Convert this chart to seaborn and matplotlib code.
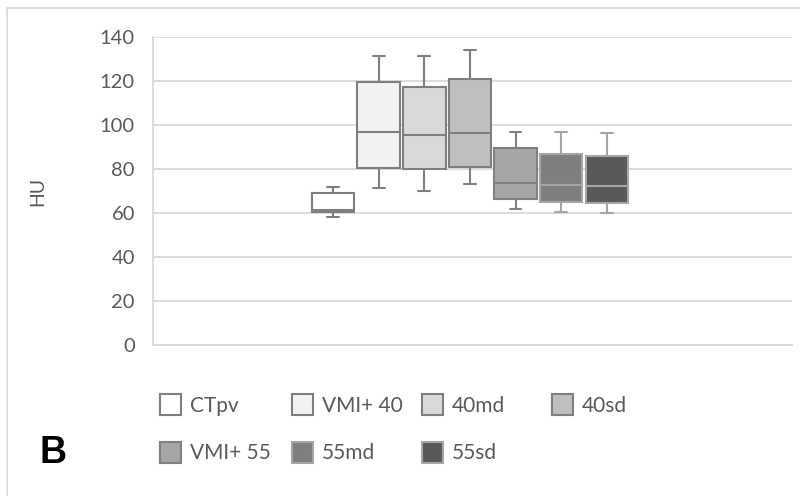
import numpy as np
import pandas as pd
import matplotlib
matplotlib.use("Agg")
import matplotlib.pyplot as plt
from matplotlib.patches import Patch, Rectangle
import seaborn as sns

# Box-and-whisker summaries (HU) for each reconstruction
series = ["CTpv", "VMI+ 40", "40md", "40sd", "VMI+ 55", "55md", "55sd"]
whisker_low = [58.5, 71.4, 70.3, 73.3, 62.1, 60.6, 60.3]
quartile_1 = [60.5, 80.7, 80.3, 81.0, 66.6, 65.0, 64.8]
medians = [61.6, 97.0, 95.4, 96.6, 73.9, 72.9, 72.4]
quartile_3 = [69.1, 119.5, 117.5, 120.9, 89.5, 86.8, 86.2]
whisker_high = [72.1, 131.6, 131.4, 134.2, 97.0, 97.0, 96.6]
y_ticks = [0, 20, 40, 60, 80, 100, 120, 140]

fills = ["#ffffff", "#f2f2f2", "#d9d9d9", "#bfbfbf", "#a6a6a6", "#7f7f7f", "#595959"]
edges = ["#7f7f7f", "#7f7f7f", "#7f7f7f", "#7f7f7f", "#808080", "#a6a6a6", "#a6a6a6"]

rows = []
for i, name in enumerate(series):
    for v in (whisker_low[i], quartile_1[i], medians[i], quartile_3[i], whisker_high[i]):
        rows.append({"group": "", "series": name, "HU": v})
df = pd.DataFrame(rows)

sns.set_style("white")
plt.rcParams["font.family"] = ["Lato", "DejaVu Sans"]

fig, ax = plt.subplots(figsize=(8, 4.96), dpi=100)
fig.subplots_adjust(left=153 / 800, right=792 / 800, bottom=150.7 / 496, top=458.7 / 496)

sns.boxplot(
    data=df, x="group", y="HU", hue="series", hue_order=series,
    palette=dict(zip(series, fills)), saturation=1,
    width=0.5, gap=0.07, whis=(0, 100), showfliers=False,
    linewidth=1.5, linecolor="#7f7f7f", legend=False, ax=ax,
)

cap_half = 0.0092
for cont, ec in zip(ax.containers, edges):
    for b in cont.boxes:
        b.set_edgecolor(ec)
    for ln in list(cont.whiskers) + list(cont.caps) + list(cont.medians):
        ln.set_color(ec)
    for cap in cont.caps:
        xd = np.asarray(cap.get_xdata(), dtype=float)
        c = xd.mean()
        cap.set_xdata([c - cap_half, c + cap_half])

ax.set_xlim(-0.496, 0.504)
ax.set_ylim(0, 140)
ax.set_yticks(y_ticks)
ax.set_xticks([])
ax.set_xlabel("")
ax.yaxis.grid(True, color="#d9d9d9", linewidth=1.3)
ax.set_axisbelow(True)
for side in ("top", "right"):
    ax.spines[side].set_visible(False)
for side in ("left", "bottom"):
    ax.spines[side].set_color("#d9d9d9")
    ax.spines[side].set_linewidth(1.3)
ax.tick_params(axis="y", length=0, pad=13, labelsize=14.5, labelcolor="#595959")
ax.set_ylabel("HU", fontsize=14, color="#595959")
ax.yaxis.set_label_coords(-0.167, 0.5)

# Legend laid out in four columns, two rows
col_x = [160, 292, 422, 552]
col_items = [[0, 4], [1, 5], [2, 6], [3]]
for x, items in zip(col_x, col_items):
    handles = [Patch(facecolor=fills[i], edgecolor=edges[i], linewidth=1.5) for i in items]
    labels = [series[i] for i in items]
    fig.legend(
        handles, labels, loc="upper left",
        bbox_to_anchor=(x / 800, (496 - 394) / 496),
        frameon=False, borderpad=0, borderaxespad=0,
        handlelength=1.0, handleheight=1.18, handletextpad=0.45,
        labelspacing=1.25, fontsize=15, labelcolor="#595959",
    )

fig.text(40 / 800, (496 - 463) / 496, "B", fontsize=27, fontweight="bold",
         family="Liberation Sans", color="black", va="baseline")

fig.patches.append(Rectangle((7 / 800, -0.1), 1.2, (496 - 8) / 496 + 0.1,
                             transform=fig.transFigure, fill=False,
                             edgecolor="#d9d9d9", linewidth=1.2))

fig.savefig("out.png", dpi=100)
